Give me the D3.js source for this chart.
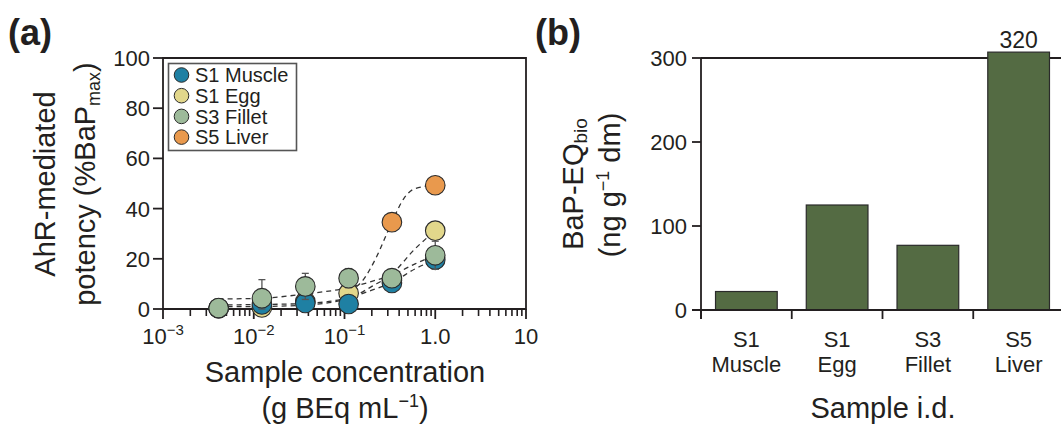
<!DOCTYPE html>
<html><head><meta charset="utf-8">
<script src="https://cdn.jsdelivr.net/npm/d3@7"></script>
<style>
body{margin:0;background:#fff;}
svg text{font-family:"Liberation Sans",Arial,Helvetica,sans-serif;fill:#231f20;}
</style></head>
<body><svg id="c" width="1061" height="428"></svg>
<script>
// ---------- Panel (a) data ----------
const conc = [0.0041, 0.0123, 0.037, 0.111, 0.333, 1.0];
const muscle = [0.3, 1.8, 2.4, 2.0, 10.4, 19.6];
const muscleErr = [0, 0, 0, 0, 1.5, 3.8];
const egg = [0.3, 0.6, 3.0, 6.3, 11.5, 31.2];
const eggErr = [0, 0, 0, 0, 0, 0];
const fillet = [0.4, 4.3, 9.0, 12.3, 12.3, 21.4];
const filletErr = [0, 7.4, 5.2, 3.8, 1.5, 5.6];
const liverConc = [0.333, 1.0];
const liver = [34.6, 49.3];
const liverErr = [0, 0];
// fitted dashed curves
const curveConc = [0.0041, 0.0123, 0.037, 0.111, 0.2, 0.333, 0.6, 1.0];
const muscleFit = [1.6, 1.8, 2.2, 4.5, 7.5, 10.5, 16, 19.6];
const eggFit = [0.9, 1.0, 1.6, 4.2, 9, 14, 24, 31.2];
const filletFit = [4.0, 4.3, 6.0, 8.5, 11, 13.5, 18, 21.4];
const liverFitConc = [0.111, 0.16, 0.22, 0.333, 0.45, 0.6, 1.0];
const liverFit = [7, 11.5, 20, 34.6, 44, 48, 49.3];
const aYTicks = [0, 20, 40, 60, 80, 100];
const aXTicks = [0.001, 0.01, 0.1, 1, 10];
const aXTickLabels = [["10","−3"],["10","−2"],["10","−1"],["1.0",""],["10",""]];
const seriesNames = ["S1 Muscle", "S1 Egg", "S3 Fillet", "S5 Liver"];
const seriesColors = ["#1f80a3", "#e2d78b", "#9dba9a", "#e9994d"];

// ---------- Panel (b) data ----------
const cats = [["S1","Muscle"],["S1","Egg"],["S3","Fillet"],["S5","Liver"]];
const bapEq = [22, 125, 77, 320];
const bYTicks = [0, 100, 200, 300];
const bDisplayCap = 307; // axis-break: tallest bar is drawn just past 300

const svg = d3.select("#c");
const ink = "#231f20";

// ===== Panel (a) =====
const xa = d3.scaleLog().domain([0.001, 10]).range([163, 526]);
const ya = d3.scaleLinear().domain([0, 100]).range([309, 58]);
const ga = svg.append("g");

ga.append("path").attr("d", `M${xa.range()[0]},${ya(0)}V${ya(100)}H${xa.range()[1]}V${ya(0)}Z`)
  .attr("fill","none").attr("stroke",ink).attr("stroke-width",1.8);
aYTicks.forEach(t=>{
  ga.append("line").attr("x1",153).attr("x2",163).attr("y1",ya(t)).attr("y2",ya(t)).attr("stroke",ink).attr("stroke-width",1.8);
  ga.append("text").attr("x",150).attr("y",ya(t)).attr("dy","0.36em").attr("text-anchor","end").attr("font-size",22).text(t);
});
for (let d=-3; d<1; d++){
  for (let m=2; m<=9; m++){
    const v = m*Math.pow(10,d);
    ga.append("line").attr("x1",xa(v)).attr("x2",xa(v)).attr("y1",ya(0)).attr("y2",ya(0)+7).attr("stroke",ink).attr("stroke-width",1.6);
  }
}
aXTicks.forEach((t,i)=>{
  ga.append("line").attr("x1",xa(t)).attr("x2",xa(t)).attr("y1",ya(0)).attr("y2",ya(0)+10).attr("stroke",ink).attr("stroke-width",1.8);
  const tx = ga.append("text").attr("x",xa(t)).attr("y",344).attr("text-anchor","middle").attr("font-size",22);
  tx.append("tspan").text(aXTickLabels[i][0]);
  if (aXTickLabels[i][1]) tx.append("tspan").attr("font-size",15).attr("dy",-9).text(aXTickLabels[i][1]);
});
ga.append("text").attr("x",345).attr("y",382).attr("text-anchor","middle").attr("font-size",29).text("Sample concentration");
{
  const t = ga.append("text").attr("x",345).attr("y",418).attr("text-anchor","middle").attr("font-size",29);
  t.append("tspan").text("(g BEq mL");
  t.append("tspan").attr("font-size",18).attr("dy",-11).text("−1");
  t.append("tspan").attr("dy",11).text(")");
}
ga.append("text").attr("transform","translate(55,184) rotate(-90)").attr("text-anchor","middle").attr("font-size",29).text("AhR-mediated");
{
  const t = ga.append("text").attr("transform","translate(95,184) rotate(-90)").attr("text-anchor","middle").attr("font-size",29);
  t.append("tspan").text("potency (%BaP");
  t.append("tspan").attr("font-size",18).attr("dy",5).text("max");
  t.append("tspan").attr("dy",-5).text(")");
}
ga.append("text").attr("x",8).attr("y",45).attr("font-size",36).attr("font-weight","bold").text("(a)");

const lineA = d3.line().x(d=>xa(d[0])).y(d=>ya(d[1])).curve(d3.curveMonotoneX);
const fits = [
  d3.zip(curveConc, eggFit), d3.zip(curveConc, muscleFit),
  d3.zip(curveConc, filletFit), d3.zip(liverFitConc, liverFit)
];
fits.forEach(f=>{
  ga.append("path").attr("d",lineA(f)).attr("fill","none").attr("stroke","#333").attr("stroke-width",1.3).attr("stroke-dasharray","5,4");
});

const series = [
  {c:conc, v:egg, e:eggErr, col:seriesColors[1]},
  {c:conc, v:muscle, e:muscleErr, col:seriesColors[0]},
  {c:conc, v:fillet, e:filletErr, col:seriesColors[2]},
  {c:liverConc, v:liver, e:liverErr, col:seriesColors[3]}
];
series.forEach(s=>{
  const g = ga.append("g");
  s.c.forEach((c,i)=>{
    if (s.e[i] > 0){
      const x = xa(c), y1 = ya(s.v[i]+s.e[i]), y0 = ya(Math.max(0,s.v[i]-s.e[i]));
      g.append("line").attr("x1",x).attr("x2",x).attr("y1",y0).attr("y2",y1).attr("stroke","#555").attr("stroke-width",1.3);
      g.append("line").attr("x1",x-3.5).attr("x2",x+3.5).attr("y1",y1).attr("y2",y1).attr("stroke","#555").attr("stroke-width",1.3);
      g.append("line").attr("x1",x-3.5).attr("x2",x+3.5).attr("y1",y0).attr("y2",y0).attr("stroke","#555").attr("stroke-width",1.3);
    }
  });
  s.c.forEach((c,i)=>{
    g.append("circle").attr("cx",xa(c)).attr("cy",ya(s.v[i])).attr("r",9.8)
      .attr("fill",s.col).attr("stroke","#2b2b2b").attr("stroke-width",1.1);
  });
});

const lg = ga.append("g");
lg.append("rect").attr("x",168.5).attr("y",63.5).attr("width",128).attr("height",87)
  .attr("fill","#fff").attr("stroke","#555").attr("stroke-width",1.6);
seriesNames.forEach((n,i)=>{
  const cy = 75 + i*20.7;
  lg.append("circle").attr("cx",181.5).attr("cy",cy).attr("r",7.3).attr("fill",seriesColors[i]).attr("stroke","#2b2b2b").attr("stroke-width",1);
  lg.append("text").attr("x",195).attr("y",cy).attr("dy","0.36em").attr("font-size",20).text(n);
});

// ===== Panel (b) =====
const xb = d3.scaleBand().domain(cats.map(c=>c.join(" "))).range([701, 1064]).paddingInner(0.32).paddingOuter(0.16);
const yb = d3.scaleLinear().domain([0, 300]).range([310, 58]);
const gb = svg.append("g");
const step = xb.step();
const x0 = xb.range()[0];

gb.append("line").attr("x1",x0).attr("x2",1061).attr("y1",yb(300)).attr("y2",yb(300)).attr("stroke",ink).attr("stroke-width",1.8);
gb.append("line").attr("x1",x0).attr("x2",x0).attr("y1",yb(300)).attr("y2",yb(0)+9).attr("stroke",ink).attr("stroke-width",1.8);
bYTicks.forEach(t=>{
  gb.append("line").attr("x1",x0-9).attr("x2",x0).attr("y1",yb(t)).attr("y2",yb(t)).attr("stroke",ink).attr("stroke-width",1.8);
  gb.append("text").attr("x",687).attr("y",yb(t)).attr("dy","0.36em").attr("text-anchor","end").attr("font-size",22).text(t);
});
cats.forEach((c,i)=>{
  const key = c.join(" ");
  const v = Math.min(bapEq[i], bDisplayCap);
  gb.append("rect").attr("x",xb(key)).attr("y",yb(v)).attr("width",xb.bandwidth()).attr("height",yb(0)-yb(v))
    .attr("fill","#546b43").attr("stroke","#2a2a2a").attr("stroke-width",1.2);
  const cx = xb(key)+xb.bandwidth()/2;
  gb.append("text").attr("x",cx).attr("y",347).attr("text-anchor","middle").attr("font-size",22).text(c[0]);
  gb.append("text").attr("x",cx).attr("y",372).attr("text-anchor","middle").attr("font-size",22).text(c[1]);
  if (bapEq[i] > bDisplayCap){
    gb.append("text").attr("x",cx).attr("y",48).attr("text-anchor","middle").attr("font-size",23).text(bapEq[i]);
  }
});
gb.append("line").attr("x1",x0-9).attr("x2",1061).attr("y1",yb(0)).attr("y2",yb(0)).attr("stroke",ink).attr("stroke-width",1.8);
for (let i=0;i<cats.length;i++){
  const x = x0 + i*step;
  gb.append("line").attr("x1",x).attr("x2",x).attr("y1",yb(0)).attr("y2",yb(0)+9).attr("stroke",ink).attr("stroke-width",1.8);
}
gb.append("text").attr("x",883).attr("y",418).attr("text-anchor","middle").attr("font-size",29).text("Sample i.d.");
{
  const t = gb.append("text").attr("transform","translate(583,184) rotate(-90)").attr("text-anchor","middle").attr("font-size",29);
  t.append("tspan").text("BaP-EQ");
  t.append("tspan").attr("font-size",19).attr("dy",4).text("bio");
}
{
  const t = gb.append("text").attr("transform","translate(620,185) rotate(-90)").attr("text-anchor","middle").attr("font-size",29);
  t.append("tspan").text("(ng g");
  t.append("tspan").attr("font-size",18).attr("dy",-11).text("−1");
  t.append("tspan").attr("dy",11).text(" dm)");
}
gb.append("text").attr("x",535).attr("y",45).attr("font-size",36).attr("font-weight","bold").text("(b)");
</script></body></html>
